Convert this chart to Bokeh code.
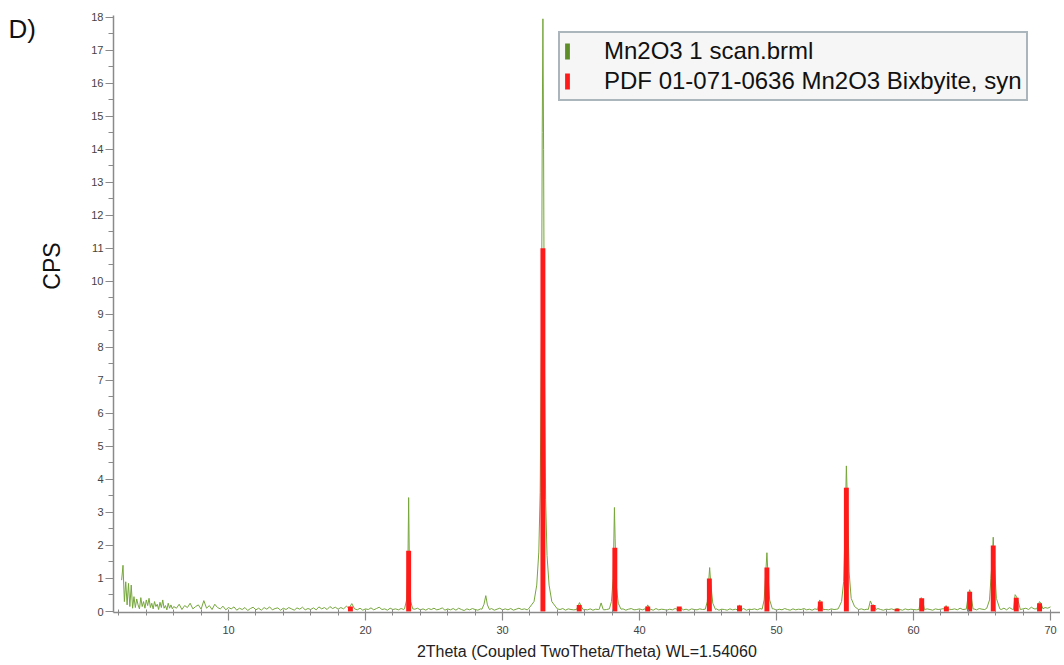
import numpy as np
from bokeh.plotting import figure
from bokeh.layouts import row
from bokeh.models import Range1d, FixedTicker, Legend, LegendItem, Label
from bokeh.embed import file_html
from bokeh.resources import INLINE

FONT = "Liberation Sans"

# ---------------- data ----------------
# background of the scan, 2.2 .. 6.0 step 0.1 (CPS)
bg_lo_start, bg_lo_step = 2.2, 0.1
bg_lo = [0.95, 1.40, 0.30, 0.90, 0.20, 0.85, 0.15, 0.80, 0.10, 0.45,
         0.12, 0.38, 0.20, 0.08, 0.42, 0.15, 0.30, 0.10, 0.35, 0.18,
         0.40, 0.12, 0.25, 0.08, 0.30, 0.15, 0.22, 0.06, 0.28, 0.12,
         0.35, 0.10, 0.18, 0.05, 0.25, 0.10, 0.20, 0.08, 0.15]

# background of the scan, 6.2 .. 70.0 step 0.2 (CPS)
bg_start, bg_step = 6.2, 0.2
bg = [0.10, 0.22, 0.06, 0.18, 0.12, 0.25, 0.08, 0.15, 0.20, 0.07,
      0.33, 0.10, 0.18, 0.06, 0.22, 0.12, 0.08, 0.16, 0.05, 0.12,
      0.08, 0.14, 0.04, 0.10, 0.06, 0.12, 0.03, 0.09, 0.13, 0.05,
      0.10, 0.04, 0.12, 0.07, 0.14, 0.05, 0.09, 0.11, 0.04, 0.10,
      0.06, 0.12, 0.08, 0.04, 0.11, 0.07, 0.13, 0.05, 0.09, 0.06,
      0.11, 0.05, 0.14, 0.08, 0.12, 0.06, 0.15, 0.09, 0.13, 0.07,
      0.12, 0.08, 0.16, 0.10, 0.24, 0.08, 0.05, 0.10, 0.04, 0.08,
      0.06, 0.11, 0.05, 0.09, 0.13, 0.06, 0.08, 0.04, 0.10, 0.06,
      0.08, 0.05, 0.09, 0.06, 0.07, 0.05, 0.04, 0.07, 0.10, 0.05,
      0.08, 0.04, 0.09, 0.06, 0.10, 0.05, 0.07, 0.11, 0.04, 0.08,
      0.05, 0.09, 0.04, 0.10, 0.06, 0.03, 0.08, 0.05, 0.09, 0.06,
      0.04, 0.08, 0.05, 0.06, 0.05, 0.09, 0.04, 0.07, 0.10, 0.05,
      0.08, 0.05, 0.09, 0.04, 0.07, 0.10, 0.06, 0.08, 0.05, 0.09,
      0.07, 0.06, 0.08, 0.06, 0.07, 0.06, 0.08, 0.07, 0.06, 0.08,
      0.06, 0.09, 0.04, 0.08, 0.06, 0.05, 0.07, 0.05, 0.09, 0.06,
      0.05, 0.08, 0.04, 0.07, 0.06, 0.10, 0.05, 0.06, 0.08, 0.07,
      0.07, 0.06, 0.05, 0.08, 0.04, 0.07, 0.09, 0.05, 0.06, 0.08,
      0.05, 0.08, 0.06, 0.07, 0.04, 0.09, 0.05, 0.07, 0.06, 0.04,
      0.07, 0.05, 0.09, 0.06, 0.12, 0.05, 0.07, 0.04, 0.08, 0.06,
      0.05, 0.08, 0.06, 0.07, 0.06, 0.06, 0.05, 0.08, 0.04, 0.07,
      0.06, 0.04, 0.08, 0.05, 0.07, 0.06, 0.05, 0.09, 0.04, 0.07,
      0.06, 0.08, 0.05, 0.09, 0.07, 0.06, 0.06, 0.05, 0.08, 0.04,
      0.07, 0.05, 0.09, 0.06, 0.04, 0.08, 0.05, 0.07, 0.06, 0.09,
      0.05, 0.07, 0.04, 0.08, 0.06, 0.05, 0.07, 0.06, 0.05, 0.08,
      0.06, 0.07, 0.05, 0.08, 0.06, 0.07, 0.06, 0.08, 0.05, 0.06,
      0.08, 0.05, 0.07, 0.06, 0.08, 0.05, 0.09, 0.06, 0.04, 0.07,
      0.06, 0.08, 0.05, 0.09, 0.06, 0.04, 0.08, 0.05, 0.07, 0.06,
      0.05, 0.07, 0.06, 0.05, 0.08, 0.06, 0.04, 0.08, 0.06, 0.07,
      0.09, 0.05, 0.07, 0.06, 0.08, 0.05, 0.10, 0.06, 0.07, 0.05,
      0.06, 0.08, 0.05, 0.09, 0.07, 0.06, 0.08, 0.05, 0.07, 0.06,
      0.08, 0.06, 0.10, 0.05, 0.12, 0.07, 0.05, 0.09, 0.06, 0.08,
      0.10, 0.06, 0.13, 0.08, 0.11, 0.07, 0.09, 0.12, 0.10, 0.14]

# measured peak profiles of the scan (2theta, CPS)
peak_x = [
    [22.85, 23.0, 23.1, 23.15, 23.2, 23.3, 23.45],
    [28.5, 28.65, 28.78, 28.9, 29.05],
    [31.9, 32.3, 32.5, 32.65, 32.75, 32.85, 32.9, 32.95, 33.0, 33.05, 33.15, 33.25, 33.4, 33.6, 34.0],
    [35.4, 35.55, 35.62, 35.75, 35.9],
    [37.05, 37.2, 37.35],
    [37.8, 37.95, 38.08, 38.17, 38.22, 38.3, 38.45, 38.65],
    [40.45, 40.6, 40.75],
    [44.8, 44.95, 45.05, 45.12, 45.2, 45.35, 45.55],
    [47.15, 47.3, 47.45],
    [48.95, 49.1, 49.22, 49.3, 49.38, 49.5, 49.7],
    [53.0, 53.15, 53.25, 53.4],
    [54.5, 54.75, 54.9, 55.0, 55.1, 55.2, 55.3, 55.45, 55.7, 55.95],
    [56.7, 56.85, 57.0, 57.1, 57.25],
    [60.4, 60.55, 60.65, 60.8],
    [62.25, 62.38, 62.5],
    [63.85, 64.0, 64.1, 64.2, 64.35],
    [65.35, 65.55, 65.65, 65.75, 65.82, 65.9, 66.05, 66.3],
    [67.3, 67.42, 67.52, 67.65, 67.8],
    [69.0, 69.1, 69.2, 69.3, 69.45],
]
peak_y = [
    [0.08, 0.35, 1.6, 3.45, 1.5, 0.3, 0.08],
    [0.07, 0.22, 0.48, 0.2, 0.06],
    [0.08, 0.3, 0.8, 1.8, 3.6, 8.5, 14.5, 17.95, 14.0, 8.0, 3.4, 1.7, 0.8, 0.3, 0.08],
    [0.06, 0.2, 0.27, 0.15, 0.05],
    [0.06, 0.26, 0.06],
    [0.08, 0.3, 1.0, 3.15, 2.2, 0.8, 0.25, 0.07],
    [0.05, 0.2, 0.06],
    [0.07, 0.3, 0.9, 1.33, 0.85, 0.25, 0.06],
    [0.05, 0.2, 0.06],
    [0.07, 0.35, 1.2, 1.78, 1.1, 0.35, 0.08],
    [0.06, 0.35, 0.3, 0.06],
    [0.08, 0.3, 0.9, 2.4, 4.41, 3.0, 1.2, 0.4, 0.15, 0.07],
    [0.06, 0.32, 0.18, 0.2, 0.06],
    [0.06, 0.42, 0.38, 0.06],
    [0.05, 0.18, 0.06],
    [0.07, 0.5, 0.66, 0.5, 0.07],
    [0.1, 0.35, 1.0, 1.6, 2.25, 1.5, 0.4, 0.08],
    [0.06, 0.51, 0.45, 0.3, 0.06],
    [0.08, 0.2, 0.3, 0.25, 0.08],
]

# PDF 01-071-0636 reference lines
pdf_x = [18.9, 23.15, 32.95, 35.6, 38.2, 40.6, 42.9, 45.1, 47.3, 49.3,
         53.2, 55.1, 57.05, 58.8, 60.6, 62.4, 64.1, 65.82, 67.5, 69.2]
pdf_h = [0.15, 1.84, 11.0, 0.2, 1.93, 0.15, 0.15, 1.0, 0.18, 1.33,
         0.3, 3.75, 0.2, 0.08, 0.4, 0.15, 0.6, 2.0, 0.42, 0.25]

x_major = [10, 20, 30, 40, 50, 60, 70]
y_major = list(range(0, 19))

series_names = ["Mn2O3 1 scan.brml", "PDF 01-071-0636 Mn2O3 Bixbyite, syn"]

# ---------------- assemble the scan ----------------
pts = [(bg_lo_start + i * bg_lo_step, v) for i, v in enumerate(bg_lo)]
pts += [(bg_start + i * bg_step, v) for i, v in enumerate(bg)]
spans = [(xs[0], xs[-1]) for xs in peak_x]
pts = [(x, y) for (x, y) in pts if not any(a - 1e-9 <= x <= b + 1e-9 for a, b in spans)]
for xs, ys in zip(peak_x, peak_y):
    pts += list(zip(xs, ys))
pts.sort()
scan_x = [q[0] for q in pts]
scan_y = [q[1] for q in pts]

# ---------------- layout sizes ----------------
H = 662
SIDE_W = 75
MAIN_W = 985
TOP, BOTTOM = 15, 49          # frame borders (frames of a row are aligned)

# ---------------- side panel with "D)" and "CPS" ----------------
# y range in page pixels (top to bottom) over the aligned frame
side = figure(width=SIDE_W, height=H, output_backend="svg", toolbar_location=None,
              x_range=Range1d(0, SIDE_W), y_range=Range1d(H - BOTTOM, TOP),
              min_border_left=0, min_border_right=0,
              min_border_top=TOP, min_border_bottom=BOTTOM)
side.axis.visible = False
side.grid.visible = False
side.outline_line_color = None
side.add_layout(Label(x=51, y=266, text="CPS", angle=np.pi / 2, text_align="center",
                      text_baseline="middle", text_font=FONT, text_font_size="23px",
                      text_color="#111111"))
side.add_layout(Label(x=8, y=29, text="D)", text_align="left", text_baseline="middle",
                      text_font=FONT, text_font_size="26px", text_color="#111111"))

# ---------------- main figure ----------------
p = figure(width=MAIN_W, height=H, output_backend="svg", toolbar_location=None,
           x_range=Range1d(1.606, 70.73), y_range=Range1d(-0.03, 18.05),
           min_border_left=38, min_border_right=0, min_border_top=TOP, min_border_bottom=BOTTOM)
p.xgrid.visible = False
p.ygrid.visible = False
p.outline_line_color = None
p.background_fill_color = "white"

GREEN = "#76a63c"
RED = "#ff1a1a"

p.line(scan_x, scan_y, line_color=GREEN, line_width=1)
red = p.vbar(x=pdf_x, top=pdf_h, bottom=0, width=0.36, fill_color=RED, line_color=None)
# zero-height bar used only as the legend key of the scan
green_key = p.vbar(x=pdf_x[:1], top=[0], bottom=[0], width=0.0, fill_color="#5e8d28",
                   line_color=None)

AX = "#8a8a8a"
for ax in (p.xaxis[0], p.yaxis[0]):
    ax.axis_line_color = AX
    ax.axis_line_width = 1.5
    ax.major_tick_line_color = AX
    ax.minor_tick_line_color = AX
    ax.major_tick_line_width = 1.2
    ax.major_label_text_font = FONT
    ax.major_label_text_font_size = "11px"
    ax.major_label_text_color = "#444444"

p.xaxis.ticker = FixedTicker(ticks=x_major, minor_ticks=list(range(2, 71, 2)))
p.xaxis.major_tick_out = 8
p.xaxis.major_tick_in = 0
p.xaxis.minor_tick_out = 3
p.xaxis.minor_tick_in = 3
p.xaxis.major_label_standoff = 5
p.xaxis.axis_label = "2Theta (Coupled TwoTheta/Theta) WL=1.54060"
p.xaxis.axis_label_text_font = FONT
p.xaxis.axis_label_text_font_style = "normal"
p.xaxis.axis_label_text_font_size = "16px"
p.xaxis.axis_label_text_color = "#222222"
p.xaxis.axis_label_standoff = 6

p.yaxis.ticker = FixedTicker(ticks=y_major, minor_ticks=[i * 0.5 for i in range(0, 37)])
p.yaxis.major_tick_out = 8
p.yaxis.major_tick_in = 0
p.yaxis.minor_tick_out = 5
p.yaxis.minor_tick_in = 0
p.yaxis.major_label_standoff = 2

legend = Legend(items=[LegendItem(label=series_names[0], renderers=[green_key]),
                       LegendItem(label=series_names[1], renderers=[red])],
                location=(445, 511), orientation="vertical",
                label_text_font=FONT, label_text_font_size="24px", label_text_color="#111111",
                label_height=22, glyph_height=20, glyph_width=6, label_standoff=34,
                spacing=2, padding=4, margin=0,
                border_line_color="#5f7382", border_line_width=2,
                background_fill_color="#f6f6f6", background_fill_alpha=1.0)
p.add_layout(legend)

layout = row(side, p, spacing=0)
open("out.html", "w").write(file_html(layout, INLINE))
